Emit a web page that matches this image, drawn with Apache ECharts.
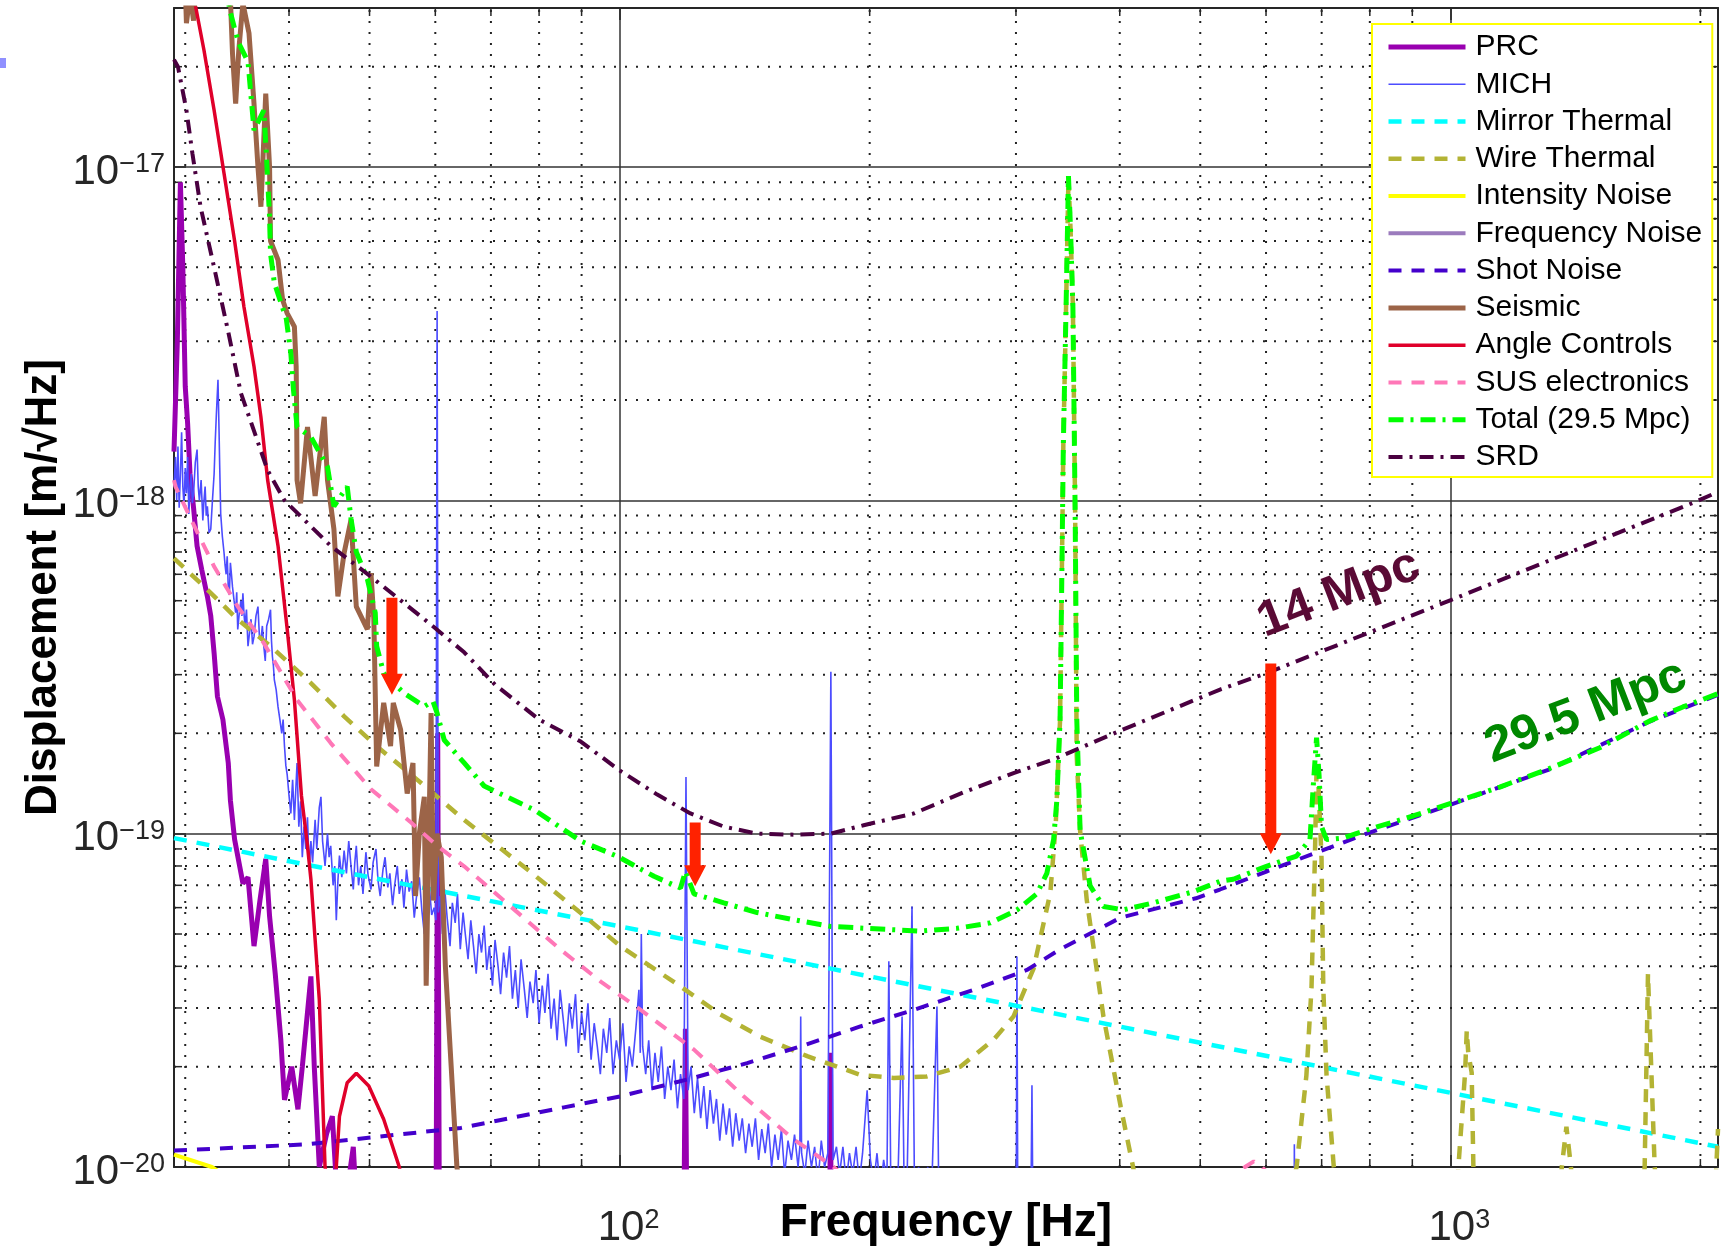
<!DOCTYPE html>
<html><head><meta charset="utf-8">
<script src="https://cdn.jsdelivr.net/npm/echarts@6/dist/echarts.min.js"></script>
<style>html,body{margin:0;padding:0;background:#fff}#c{width:1722px;height:1253px}</style>
</head><body><div id="c"></div><script>
// ---------- axis ranges & ticks ----------
const X_MIN = 29.08, X_MAX = 2100;
const Y_MIN = 1e-20, Y_MAX = 3e-17;
const Y_UNIT = 1e-20; // values are plotted in units of 1e-20 m/sqrt(Hz)
const xMinorTicks = [30,40,50,60,70,80,90,200,300,400,500,600,700,800,900,2000];
const yMinorTicks = [2e-20,3e-20,4e-20,5e-20,6e-20,7e-20,8e-20,9e-20,
  2e-19,3e-19,4e-19,5e-19,6e-19,7e-19,8e-19,9e-19,
  2e-18,3e-18,4e-18,5e-18,6e-18,7e-18,8e-18,9e-18,2e-17];
const seriesNames = ['PRC','MICH','Mirror Thermal','Wire Thermal','Intensity Noise','Frequency Noise',
  'Shot Noise','Seismic','Angle Controls','SUS electronics','Total (29.5 Mpc)','SRD'];

// ---------- data: [frequency Hz, displacement m/sqrt(Hz)] ----------
const prc = [[29.08,1.4e-18],[29.35,3e-18],[29.6,9e-18],[29.8,5e-18],[30.0,2.2e-18],[30.2,1.7e-18],[30.4,1.2e-18],
 [30.7,9.5e-19],[31.0,7.3e-19],[31.4,6.2e-19],[31.9,5.15e-19],[32.2,4.5e-19],[32.5,3.48e-19],[32.8,2.58e-19],
 [33.3,2.2e-19],[33.8,1.63e-19],[34.0,1.26e-19],[34.4,9.6e-20],[35.2,7.1e-20],[35.7,7.4e-20],[36.3,4.6e-20],
 [36.9,6.3e-20],[37.5,8.4e-20],[37.9,5.65e-20],[38.5,3.8e-20],[39.1,2.41e-20],[39.5,1.59e-20],[40.3,2.0e-20],
 [41.0,1.49e-20],[41.5,2.0e-20],[42.5,3.73e-20],[42.9,2.0e-20],[43.5,1.0e-20],[44.4,1.26e-20],[45.1,1.42e-20],
 [45.6,9e-21],[46.5,7e-21],[47.8,1.15e-20],[48.3,7e-21],[55,5e-21],[60.1,5e-21],[60.4,2e-19],[60.7,5e-21],
 [119.4,5e-21],[120,2.6e-20],[120.6,5e-21],[179,5e-21],[179.4,2.2e-20],[179.8,5e-21],[2100,3e-21]];
const mich = [[29.08,1.1e-18],[29.2,1.35e-18],[29.3,1.0e-18],[29.4,1.45e-18],[29.5,9.5e-19],[29.6,1.2e-18],[29.7,1.6e-18],
 [29.8,1.1e-18],[29.9,9.6e-19],[30.0,1.25e-18],[30.1,1.05e-18],[30.2,1.35e-18],[30.3,9.1e-19],[30.4,1.1e-18],
 [30.5,1.2e-18],[30.6,9.8e-19],[30.7,1.05e-18],[30.85,1.3e-18],[31.0,1.42e-18],[31.1,1.1e-18],[31.2,1.0e-18],
 [31.35,1.15e-18],[31.5,8.7e-19],[31.6,1.0e-18],[31.7,1.1e-18],[31.8,9.0e-19],[31.9,9.6e-19],[32.05,8.0e-19],
 [32.2,8.2e-19],[32.35,1.0e-18],[32.5,1.2e-18],[32.6,1.5e-18],[32.7,1.8e-18],[32.85,2.3e-18],[32.95,1.6e-18],
 [33.0,1.3e-18],[33.1,9.1e-19],[33.25,7.8e-19],[33.4,7.0e-19],[33.5,6.4e-19],[33.6,6.0e-19],[33.7,6.8e-19],
 [33.8,5.5e-19],[33.9,5.2e-19],[34.0,6.5e-19],[34.1,6.0e-19],[34.2,5.5e-19],[34.35,5.0e-19],[34.5,4.6e-19],
 [34.6,5.3e-19],[34.7,4.1e-19],[34.85,4.6e-19],[35.0,5.0e-19],[35.1,4.5e-19],[35.2,5.26e-19],[35.3,4.6e-19],
 [35.4,4.2e-19],[35.55,4.7e-19],[35.7,3.65e-19],[35.85,4.0e-19],[36.0,4.4e-19],[36.15,3.7e-19],[36.3,3.9e-19],
 [36.5,4.5e-19],[36.7,4.8e-19],[36.85,3.9e-19],[37.0,3.8e-19],[37.15,4.2e-19],[37.3,3.65e-19],[37.45,3.3e-19],
 [37.6,4.2e-19],[37.8,4.4e-19],[38.0,4.7e-19],[38.1,3.8e-19],[38.2,3.4e-19],[38.3,3.2e-19],[38.4,2.9e-19],
 [38.6,2.7e-19],[38.8,2.4e-19],[39.0,2.2e-19],[39.2,2.0e-19],[39.35,2.2e-19],[39.5,1.83e-19],[39.65,1.6e-19],
 [39.8,1.5e-19],[40.0,1.3e-19],[40.2,1.15e-19],[40.4,1.45e-19],[40.6,1.1e-19],[40.9,1.63e-19],[41.1,1.05e-19],
 [41.3,1.25e-19],[41.5,8.5e-20],[41.7,1.05e-19],[41.9,9.0e-20],[42.1,1.12e-19],[42.3,7.8e-20],[42.5,9.5e-20],
 [42.7,8.2e-20],[43.0,1.1e-19],[43.2,9.0e-20],[43.5,1.2e-19],[43.7,1.29e-19],[43.9,9.5e-20],[44.2,8.0e-20],
 [44.5,1.0e-19],[44.7,8.5e-20],[44.9,9.2e-20],[45.2,7.0e-20],[45.4,8.0e-20],[45.6,5.5e-20],[45.8,7.2e-20],
 [46.0,8.6e-20],[46.3,7.4e-20],[46.6,8.9e-20],[46.9,7.6e-20],[47.2,9.5e-20],[47.5,8.0e-20],[47.8,6.8e-20],
 [48.0,8.2e-20],[48.2,9.2e-20],[48.5,7.0e-20],[48.8,8.0e-20],[49.1,6.6e-20],[49.5,8.8e-20],[49.8,7.5e-20],
 [50.2,6.8e-20],[50.5,8.2e-20],[50.9,9.0e-20],[51.2,7.2e-20],[51.5,6.5e-20],[51.9,7.8e-20],[52.2,8.5e-20],
 [52.6,6.9e-20],[52.9,7.6e-20],[53.3,6.1e-20],[53.6,7.0e-20],[54.0,8.0e-20],[54.3,6.6e-20],[54.7,7.3e-20],
 [55.0,6.0e-20],[55.4,7.8e-20],[55.8,6.7e-20],[56.2,7.2e-20],[56.6,5.6e-20],[57.0,6.6e-20],[57.4,7.4e-20],
 [57.8,5.9e-20],[58.2,5.0e-20],[58.6,6.4e-20],[59.0,7.0e-20],[59.4,5.7e-20],[59.8,6.0e-20],[60.1,5.5e-20],
 [60.3,3.7e-18],[60.5,5.8e-20],[60.8,6.5e-20],[61.2,5.0e-20],[61.6,6.8e-20],[62.0,5.6e-20],[62.5,4.6e-20],
 [62.9,6.2e-20],[63.4,5.4e-20],[63.8,6.6e-20],[64.3,4.5e-20],[64.8,5.8e-20],[65.2,5.0e-20],[65.7,4.2e-20],
 [66.2,5.5e-20],[66.7,4.6e-20],[67.2,3.8e-20],[67.7,5.0e-20],[68.2,4.4e-20],[68.7,5.3e-20],[69.2,3.9e-20],
 [69.7,4.6e-20],[70.3,3.5e-20],[70.8,4.8e-20],[71.4,4.0e-20],[71.9,3.3e-20],[72.5,4.4e-20],[73.1,3.7e-20],
 [73.7,4.6e-20],[74.3,3.2e-20],[74.9,3.9e-20],[75.5,3.0e-20],[76.1,4.2e-20],[76.8,3.4e-20],[77.4,2.8e-20],
 [78.0,3.6e-20],[78.7,3.1e-20],[79.3,3.9e-20],[80.0,2.7e-20],[80.7,3.5e-20],[81.3,2.9e-20],[82.0,3.8e-20],
 [82.7,2.6e-20],[83.4,3.2e-20],[84.1,2.4e-20],[84.8,3.4e-20],[85.5,2.8e-20],[86.2,2.3e-20],[87.0,3.1e-20],
 [87.7,2.6e-20],[88.5,3.3e-20],[89.2,2.2e-20],[90.0,2.9e-20],[90.8,2.4e-20],[91.6,3.1e-20],[92.4,2.1e-20],
 [93.2,2.7e-20],[94.0,2.3e-20],[94.8,1.9e-20],[95.6,2.6e-20],[96.5,2.2e-20],[97.3,2.8e-20],[98.2,1.9e-20],
 [99.1,2.4e-20],[100,2.1e-20],[100.9,2.7e-20],[101.8,1.8e-20],[102.7,2.3e-20],[103.6,2.0e-20],[104.6,2.6e-20],
 [105.5,3.4e-20],[105.9,2.2e-20],[106.2,5.0e-20],[106.6,2.3e-20],[107.5,1.9e-20],[108.4,2.4e-20],[109.4,1.7e-20],
 [110.3,2.2e-20],[111.3,1.8e-20],[112.3,2.3e-20],[113.3,1.6e-20],[114.3,2.0e-20],[115.3,1.7e-20],[116.3,2.1e-20],
 [117.4,1.5e-20],[118.4,1.9e-20],[119.5,1.6e-20],[120.2,1.48e-19],[120.9,1.7e-20],[121.9,2.0e-20],[123.0,1.45e-20],
 [124.1,1.85e-20],[125.2,1.4e-20],[126.3,1.75e-20],[127.4,1.3e-20],[128.5,1.7e-20],[129.7,1.35e-20],[130.8,1.6e-20],
 [132.0,1.2e-20],[133.2,1.55e-20],[134.4,1.25e-20],[135.6,1.5e-20],[136.8,1.15e-20],[138.0,1.45e-20],[139.3,1.2e-20],
 [140.5,1.4e-20],[141.8,1.1e-20],[143.1,1.35e-20],[144.4,1.15e-20],[145.7,1.4e-20],[147.0,1.05e-20],[148.3,1.3e-20],
 [149.7,1.1e-20],[151.0,1.35e-20],[152.4,1.0e-20],[153.8,1.25e-20],[155.2,1.05e-20],[156.6,1.3e-20],[158.0,9.5e-21],
 [159.5,1.2e-20],[161.0,1.05e-20],[162.4,1.25e-20],[164.0,1.0e-20],[164.8,1.15e-20],[165.2,2.83e-20],[165.6,1.1e-20],
 [167.1,9.5e-21],[168.6,1.2e-20],[170.2,1.0e-20],[171.7,1.15e-20],[173.3,9.0e-21],[174.9,1.2e-20],[176.5,1.0e-20],
 [178.1,1.1e-20],[179.6,3.06e-19],[180.7,1.05e-20],[182.4,1.15e-20],[184.0,9.5e-21],[185.7,1.15e-20],[187.4,9.0e-21],
 [189.1,1.1e-20],[190.8,9.5e-21],[192.6,1.15e-20],[194.3,9.0e-21],[196.1,1.1e-20],[198.6,1.7e-20],[200.4,1.05e-20],
 [202.3,9e-21],[204.1,1.1e-20],[206.0,8.5e-21],[207.9,1.05e-20],[209.8,9e-21],[210.9,4.14e-20],[212.0,9.5e-21],
 [214,1.0e-20],[216,8e-21],[218.8,2.83e-20],[220,9e-21],[222,1.0e-20],[224.9,6.05e-20],[226.5,8e-21],[229,1.0e-20],
 [232,9e-21],[235,1.0e-20],[237,7e-21],[241,3.03e-20],[242.5,6e-21],[270,4e-21],[300,4e-21],[300.8,4.28e-20],
 [301.8,4e-21],[312,4e-21],[313.6,1.76e-20],[315,4e-21],[648,3e-21],[649,1.17e-20],[650.5,3e-21],[2100,2e-21]];
const mirrorThermal = [[29.08,9.7e-20],[50,7.4e-20],[100,5.27e-20],[200,3.73e-20],[500,2.36e-20],[1000,1.67e-20],[2100,1.15e-20]];
const wireThermal = [[29.08,6.7e-19],[29.2,6.64e-19],[31.6,5.52e-19],[34.7,4.39e-19],[38,3.65e-19],[42.5,2.83e-19],
 [46.6,2.25e-19],[51,1.83e-19],[57.1,1.45e-19],[65,1.1e-19],[78,7.7e-20],[89.8,5.78e-20],[100.3,4.59e-20],
 [118.4,3.48e-20],[132.2,2.87e-20],[147.7,2.46e-20],[168.2,2.15e-20],[194.9,1.89e-20],[213.8,1.85e-20],
 [234.4,1.87e-20],[257.1,2.0e-20],[282,2.41e-20],[298,2.83e-20],[315,3.94e-20],[330,6.65e-20],[335,1.07e-19],
 [339,2.19e-19],[340.6,5.66e-19],[342.1,1.47e-18],[344.7,3.8e-18],[347,9.3e-18],[349,6.5e-18],[351.3,3.8e-18],
 [353.5,9.1e-19],[355,1.72e-19],[358.4,1.02e-19],[365,6.34e-20],[382.3,2.83e-20],[401,1.52e-20],[415.4,9.9e-21],
 [430,6e-21],[600,4e-21],[653,1.0e-20],[671,1.88e-20],[680.6,3.44e-20],[683.8,5.5e-20],[687,8.4e-20],
 [690.2,1.57e-19],[691.5,1.65e-19],[693,1.5e-19],[699.8,8.4e-20],[703.2,3.44e-20],[709.6,1.88e-20],[724,1.0e-20],
 [760,5e-21],[1000,5e-21],[1022.6,1e-20],[1041.8,1.92e-20],[1046.6,2.57e-20],[1051,2.2e-20],[1061,1.92e-20],
 [1066,1e-20],[1100,5e-21],[1340,6e-21],[1362,1e-20],[1379.6,1.32e-20],[1397,1e-20],[1420,6e-21],[1690,6e-21],
 [1713.7,1e-20],[1722,2e-20],[1729.5,3.8e-20],[1745,2e-20],[1762,1e-20],[1800,6e-21],[2070,6e-21],[2092,1.05e-20],[2100,1.3e-20]];
const intensityNoise = [[29.08,1.09e-20],[32.3,1.0e-20],[40,7e-21],[100,3e-21],[2100,1e-21]];
const frequencyNoise = [[29.08,4e-21],[2100,2e-21]];
const shotNoise = [[29.08,1.12e-20],[42.1,1.17e-20],[64.4,1.31e-20],[85.7,1.51e-20],[100.3,1.63e-20],[120.6,1.83e-20],
 [142.4,2.05e-20],[165,2.3e-20],[194.9,2.64e-20],[226,2.96e-20],[266.7,3.4e-20],[309.2,3.9e-20],[339,4.5e-20],
 [401,5.6e-20],[494,6.4e-20],[528,6.8e-20],[600.7,7.7e-20],[700,8.9e-20],[793,1.0e-19],[999,1.22e-19],
 [1317,1.56e-19],[1738,2.17e-19],[2100,2.61e-19]];
const seismic = [[29.08,6e-17],[29.9,4.5e-17],[30.1,2.7e-17],[30.4,3.3e-17],[30.7,2.75e-17],[31.0,4e-17],[31.5,6e-17],
 [33.5,6e-17],[34.0,3.2e-17],[34.2,2.19e-17],[34.5,1.55e-17],[34.8,2.24e-17],[35.2,3.1e-17],[35.8,2.52e-17],
 [36.3,1.55e-17],[36.7,1.0e-17],[37.0,7.6e-18],[37.5,1.66e-17],[37.9,1.0e-17],[38.0,6.0e-18],[38.8,5.26e-18],
 [39.3,3.99e-18],[39.8,3.64e-18],[40.6,3.32e-18],[40.8,2.52e-18],[40.85,1.9e-18],[40.9,1.15e-18],[41.3,9.8e-19],
 [42.1,1.66e-18],[43.0,1.03e-18],[44.1,1.78e-18],[44.5,1.15e-18],[45.3,8.2e-19],[45.8,5.15e-19],[46.6,6.95e-19],
 [47.5,8.75e-19],[48.2,4.8e-19],[49.7,4.1e-19],[50.2,6.05e-19],[50.6,4.4e-19],[51.0,1.59e-19],[52.0,2.47e-19],
 [53.0,1.83e-19],[53.4,2.47e-19],[54.5,2.05e-19],[55.5,1.32e-19],[56.4,1.63e-19],[56.8,6.5e-20],[57.4,1.0e-19],
 [58.2,1.29e-19],[58.5,3.5e-20],[59.3,2.3e-19],[59.7,6.3e-20],[60.3,1.0e-19],[61.0,8.5e-20],[61.7,4.0e-20],
 [62.7,2.0e-20],[63.7,1.0e-20],[65,7e-21],[80,4e-21],[2100,1e-21]];
const angleControls = [[29.08,8e-17],[30.9,3.0e-17],[31.6,2.24e-17],[32.5,1.48e-17],[33.4,9.6e-18],[34.4,6.0e-18],
 [35.3,3.81e-18],[36.3,2.52e-18],[37.0,1.78e-18],[37.7,1.15e-18],[38.8,7.3e-19],[39.8,4.1e-19],[40.6,2.52e-19],
 [41.4,1.3e-19],[42.1,9.2e-20],[42.5,7.3e-20],[43.5,3.18e-20],[44.2,1e-20],[44.9,8e-21],[45.6,1e-20],[46.0,1.42e-20],
 [47.0,1.79e-20],[48.2,1.91e-20],[49.9,1.75e-20],[52.0,1.39e-20],[54.3,1e-20],[56,7e-21],[60,4e-21]];
const susElectronics = [[29.08,1.15e-18],[29.2,1.1e-18],[30.5,8.75e-19],[32.5,6.33e-19],[34.7,4.8e-19],[37.3,3.73e-19],
 [40.9,2.52e-19],[44.9,1.87e-19],[50.2,1.36e-19],[56.1,1.08e-19],[60.3,9.2e-20],[65,7.98e-20],[84.9,4.49e-20],
 [94.9,3.6e-20],[106,2.96e-20],[122.9,2.25e-20],[141,1.63e-20],[162,1.21e-20],[181,1.0e-20],[200,8e-21],
 [300,5e-21],[500,8e-21],[566,1.0e-20],[580,1.04e-20],[593,1.0e-20],[650,8e-21],[1000,5e-21],[2100,3e-21]];
const total = [[29.08,8e-17],[33.5,4e-17],[33.9,3.0e-17],[34.4,2.6e-17],[34.8,2.35e-17],[35.7,2.07e-17],[36.0,1.63e-17],
 [36.3,1.29e-17],[37.3,1.48e-17],[37.5,1.18e-17],[37.7,9.1e-18],[37.9,7.1e-18],[38.0,5.5e-18],[38.4,4.5e-18],
 [39.7,3.5e-18],[40.2,2.76e-18],[40.5,2.14e-18],[40.9,1.66e-18],[42.5,1.55e-18],[44.5,1.26e-18],[45.3,9.6e-19],
 [47.0,1.1e-18],[47.5,8.8e-19],[48.2,7.0e-19],[49.7,5.8e-19],[50.8,4.6e-19],[51.0,3.65e-19],[52.0,3.03e-19],
 [55.0,2.64e-19],[58.2,2.41e-19],[59.6,2.5e-19],[60.3,2.3e-19],[61.5,1.91e-19],[65,1.63e-19],[68.7,1.39e-19],
 [78.9,1.18e-19],[89.8,9.5e-20],[99.4,8.55e-20],[110,7.45e-20],[118.4,6.87e-20],[120,7.7e-20],[122.9,6.6e-20],
 [133.5,6.2e-20],[146.4,5.8e-20],[162,5.52e-20],[179.4,5.27e-20],[198.6,5.2e-20],[230,5.1e-20],[254.7,5.2e-20],
 [279.4,5.4e-20],[300.8,5.9e-20],[317.9,6.6e-20],[326.8,7.6e-20],[333,9.6e-20],[336,1.26e-19],[339,2.19e-19],
 [340.6,5.66e-19],[342.1,1.47e-18],[344.7,3.8e-18],[347,9.4e-18],[349,6.5e-18],[351.3,3.8e-18],[353.5,9.1e-19],
 [355.1,2.19e-19],[358.4,1.02e-19],[368.5,6.97e-20],[382.3,6.05e-20],[404.2,5.91e-20],[439,6.2e-20],
 [490.6,6.7e-20],[528.3,7.2e-20],[548,7.3e-20],[600.7,7.98e-20],[653,8.57e-20],[677.7,9.6e-20],[684,1.4e-19],
 [690.2,1.94e-19],[695,1.5e-19],[699.8,1.05e-19],[709.6,9.6e-20],[743,9.7e-20],[807.4,1.04e-19],[902,1.13e-19],
 [999,1.23e-19],[1147,1.38e-19],[1317,1.57e-19],[1513,1.81e-19],[1738,2.18e-19],[1905,2.4e-19],[2100,2.63e-19]];
const srd = [[29.08,2.1e-17],[29.4,2.0e-17],[30.1,1.48e-17],[30.6,1.1e-17],[31.3,7.6e-18],[32.5,5.0e-18],[33.8,3.2e-18],
 [35,2.1e-18],[37.7,1.23e-18],[39.5,1.0e-18],[44.9,7.3e-19],[50.2,5.9e-19],[58.2,4.4e-19],[65,3.5e-19],
 [70.8,2.8e-19],[80,2.2e-19],[89.8,1.89e-19],[100.3,1.54e-19],[111,1.31e-19],[121.7,1.15e-19],[133.5,1.05e-19],
 [146.4,1.0e-19],[162,9.93e-20],[179.4,1.0e-19],[196.7,1.06e-19],[226,1.15e-19],[259.4,1.33e-19],[298,1.52e-19],
 [333,1.67e-19],[401,2.04e-19],[529,2.71e-19],[601,3.03e-19],[1003,5.03e-19],[1973,9.9e-19],[2100,1.06e-18]];
// annotation arrows: [frequency, tail value, tip value]
const arrows = [[53.2,5.1e-19,2.61e-19],[123.3,1.08e-19,6.95e-20],[608,3.24e-19,8.67e-20]];

// ---------- build chart ----------
const FONT = '"Liberation Sans", Arial, Helvetica, sans-serif';
const scaled = arr => arr.map(p => [p[0], p[1] / Y_UNIT]);
const styles = [
  {color:'#9900B0', width:5, type:'solid'},
  {color:'#4C4CFF', width:1.6, type:'solid'},
  {color:'#00FFFF', width:4.5, type:[13,10]},
  {color:'#B3B334', width:4.5, type:[13,10]},
  {color:'#FFFF00', width:4, type:'solid'},
  {color:'#9B7BBD', width:4, type:'solid'},
  {color:'#4400CC', width:4, type:[13,10]},
  {color:'#9C6448', width:5, type:'solid'},
  {color:'#E0002A', width:3.5, type:'solid'},
  {color:'#FF77B7', width:4, type:[13,10]},
  {color:'#00FF00', width:5, type:[15,7,3,7]},
  {color:'#4A0040', width:4, type:[14,7,3,7]}
];
const dataSets = [prc, mich, mirrorThermal, wireThermal, intensityNoise, frequencyNoise,
  shotNoise, seismic, angleControls, susElectronics, total, srd];

const lineSeries = dataSets.map((d, i) => ({
  name: seriesNames[i], type: 'line', data: scaled(d), showSymbol: false, symbol: 'none',
  xAxisIndex: 0, yAxisIndex: 0, clip: true, z: 3, silent: true,
  lineStyle: {color: styles[i].color, width: styles[i].width, type: styles[i].type},
  itemStyle: {color: styles[i].color}, emphasis: {disabled: true}
}));

const gridStroke = '#222';
const minorX = {
  type:'custom', name:'xminor', z:1, silent:true, xAxisIndex:0, yAxisIndex:0,
  data: xMinorTicks.map(f => [f, 1]),
  renderItem: function (params, api) {
    const cs = params.coordSys;
    const x = api.coord([api.value(0), api.value(1)])[0];
    const yb = cs.y + cs.height, yt = cs.y;
    return {type:'group', children:[
      {type:'line', shape:{x1:x, y1:yb, x2:x, y2:yt}, style:{stroke:gridStroke, lineWidth:2, lineDash:[2,9]}},
      {type:'line', shape:{x1:x, y1:yb, x2:x, y2:yb-8}, style:{stroke:'#262626', lineWidth:1.5}},
      {type:'line', shape:{x1:x, y1:yt, x2:x, y2:yt+8}, style:{stroke:'#262626', lineWidth:1.5}}
    ]};
  }
};
const minorY = {
  type:'custom', name:'yminor', z:1, silent:true, xAxisIndex:0, yAxisIndex:0,
  data: yMinorTicks.map(v => [X_MIN, v / Y_UNIT]),
  renderItem: function (params, api) {
    const cs = params.coordSys;
    const y = api.coord([api.value(0), api.value(1)])[1];
    const xl = cs.x, xr = cs.x + cs.width;
    return {type:'group', children:[
      {type:'line', shape:{x1:xl, y1:y, x2:xr, y2:y}, style:{stroke:gridStroke, lineWidth:2, lineDash:[2,9]}},
      {type:'line', shape:{x1:xl, y1:y, x2:xl+8, y2:y}, style:{stroke:'#262626', lineWidth:1.5}},
      {type:'line', shape:{x1:xr, y1:y, x2:xr-8, y2:y}, style:{stroke:'#262626', lineWidth:1.5}}
    ]};
  }
};
const arrowSeries = {
  type:'custom', name:'arrows', z:10, silent:true, xAxisIndex:0, yAxisIndex:0,
  data: arrows.map(a => [a[0], a[1] / Y_UNIT, a[2] / Y_UNIT]),
  encode: {x:0, y:[1,2]},
  renderItem: function (params, api) {
    const top = api.coord([api.value(0), api.value(1)]);
    const tip = api.coord([api.value(0), api.value(2)]);
    const x = top[0], hw = 5.5, hh = 11, hl = 21;
    return {type:'polygon', shape:{points:[[x-hw, top[1]],[x+hw, top[1]],[x+hw, tip[1]-hl],[x+hh, tip[1]-hl],
      [x, tip[1]],[x-hh, tip[1]-hl],[x-hw, tip[1]-hl]]}, style:{fill:'#FF2200'}};
  }
};

function powLabel(v, offset) {
  const e = Math.log10(v), r = Math.round(e);
  if (Math.abs(e - r) > 1e-6) return '';
  const ex = r + offset;
  return '{b|10}{s|' + (ex < 0 ? '\u2212' + (-ex) : ex) + '}';
}
const labelRich = {
  b: {fontSize:42, lineHeight:42, fontFamily:FONT, color:'#262626', verticalAlign:'bottom'},
  s: {fontSize:27, lineHeight:27, fontFamily:FONT, color:'#262626', verticalAlign:'top', padding:[0,0,27,0]}
};
const axisLineStyle = {show:true, lineStyle:{color:'#262626', width:2}};

const option = {
  animation: false,
  backgroundColor: '#fff',
  grid: {left:174, top:8, width:1544, height:1159, show:false, containLabel:false, outerBoundsMode:'none'},
  legend: {
    orient:'vertical', left:1372, top:24, padding:[8,10,5,14],
    itemWidth:77, itemHeight:30, itemGap:7.27,
    backgroundColor:'#fff', borderColor:'#FFFF00', borderWidth:2, borderRadius:0,
    textStyle:{fontSize:30, lineHeight:30, color:'#000', fontFamily:FONT, padding:[0,0,0,5]},
    lineStyle:{width:'inherit'}, itemStyle:{opacity:0},
    selectedMode:false, data: seriesNames
  },
  xAxis: [
    {type:'log', logBase:10, min:X_MIN, max:X_MAX, position:'bottom',
     name:'Frequency [Hz]', nameLocation:'middle', nameGap:33, nameMoveOverlap:false,
     nameTextStyle:{fontSize:46, fontWeight:'bold', color:'#000', fontFamily:FONT},
     axisLine:axisLineStyle, axisTick:{show:true, inside:true, length:12, lineStyle:{color:'#262626', width:1.5}},
     axisLabel:{formatter:v => powLabel(v, 0), rich:labelRich, margin:40, padding:[0,0,0,18], showMinLabel:true, showMaxLabel:true},
     splitLine:{show:true, lineStyle:{color:'#333', width:1.5, type:'solid'}}},
    {type:'log', logBase:10, min:X_MIN, max:X_MAX, position:'top',
     axisLine:axisLineStyle, axisTick:{show:true, inside:true, length:12, lineStyle:{color:'#262626', width:1.5}},
     axisLabel:{show:false}, splitLine:{show:false}}
  ],
  yAxis: [
    {type:'log', logBase:10, min:Y_MIN / Y_UNIT, max:Y_MAX / Y_UNIT, position:'left',
     name:'Displacement [m/\u221AHz]', nameLocation:'middle', nameGap:108, nameRotate:90, nameMoveOverlap:false,
     nameTextStyle:{fontSize:44, fontWeight:'bold', color:'#000', fontFamily:FONT},
     axisLine:axisLineStyle, axisTick:{show:true, inside:true, length:12, lineStyle:{color:'#262626', width:1.5}},
     axisLabel:{formatter:v => powLabel(v, -20), rich:labelRich, margin:9, padding:[10,0,0,0]},
     splitLine:{show:true, lineStyle:{color:'#333', width:1.5, type:'solid'}}},
    {type:'log', logBase:10, min:Y_MIN / Y_UNIT, max:Y_MAX / Y_UNIT, position:'right',
     axisLine:axisLineStyle, axisTick:{show:true, inside:true, length:12, lineStyle:{color:'#262626', width:1.5}},
     axisLabel:{show:false}, splitLine:{show:false}}
  ],
  graphic: [
    {type:'rect', shape:{x:0, y:58, width:6, height:10}, style:{fill:'#9090FF'}},
    {type:'text', x:1339, y:594, rotation:21*Math.PI/180, z:100,
     style:{text:'14 Mpc', fontSize:50, fontWeight:'bold', fontFamily:FONT, fill:'#5A0A35', align:'center', verticalAlign:'middle'}},
    {type:'text', x:1586, y:712, rotation:21*Math.PI/180, z:100,
     style:{text:'29.5 Mpc', fontSize:50, fontWeight:'bold', fontFamily:FONT, fill:'#008800', align:'center', verticalAlign:'middle'}}
  ],
  series: [minorX, minorY].concat(lineSeries, [arrowSeries])
};
const chart = echarts.init(document.getElementById('c'), null, {renderer:'canvas'});
chart.setOption(option);
</script></body></html>
